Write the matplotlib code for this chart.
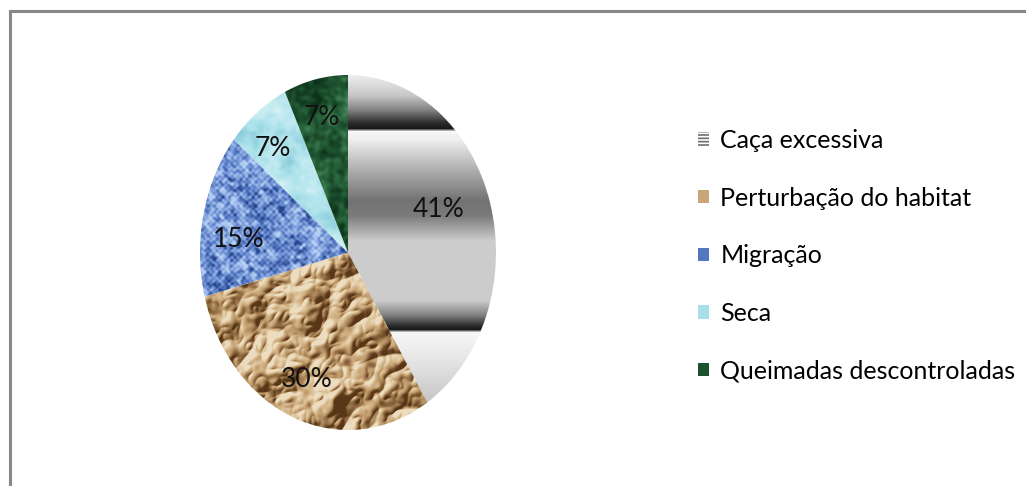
import numpy as np
import matplotlib
matplotlib.use("Agg")
from matplotlib import pyplot as plt
from matplotlib.patches import Patch
from matplotlib.lines import Line2D

# causes of decline, share in percent
causes = ["Caça excessiva", "Perturbação do habitat", "Migração", "Seca",
          "Queimadas descontroladas"]
shares = [41, 30, 15, 7, 7]

W_PX, H_PX = 1026, 486
DPI = 100
# pie box in pixels (left, top, right, bottom) - the pie is drawn stretched
PIE_BOX = (200, 75, 496, 430)
LABEL_FONT = ["Lato", "DejaVu Sans"]
plt.rcParams["hatch.linewidth"] = 1.2


def smooth_noise(shape, scale, seed):
    rng = np.random.default_rng(seed)
    n = rng.standard_normal(shape)
    fy = np.fft.fftfreq(shape[0])[:, None]
    fx = np.fft.fftfreq(shape[1])[None, :]
    g = np.exp(-(fx ** 2 + fy ** 2) * (2 * np.pi * scale) ** 2 / 2)
    out = np.real(np.fft.ifft2(np.fft.fft2(n) * g))
    return (out - out.mean()) / out.std()


def hex_rgb(h):
    h = h.lstrip("#")
    return np.array([int(h[i:i + 2], 16) / 255 for i in (0, 2, 4)])


def blend(t, colors):
    # t in [0,1] -> piecewise colour ramp
    t = np.clip(t, 0, 1)
    cs = np.array([hex_rgb(c) for c in colors])
    pos = np.linspace(0, 1, len(cs))
    out = np.empty(t.shape + (3,))
    for k in range(3):
        out[..., k] = np.interp(t, pos, cs[:, k])
    return out


def emboss(height):
    # simple directional lighting of a height field
    gy, gx = np.gradient(height)
    shade = -(gx * 0.7 + gy * 0.7)
    return shade / (np.abs(shade).std() + 1e-9)


def textures(h, w):
    yy, xx = np.mgrid[0:h, 0:w].astype(float)
    y_px = PIE_BOX[1] + yy

    # chrome bands
    keys_y = [75, 95, 110, 122, 128, 131, 140, 170, 200, 215, 240, 300,
              315, 325, 329, 332, 360, 400, 430]
    keys_v = [0.93, 0.78, 0.5, 0.18, 0.1, 0.97, 0.93, 0.68, 0.45, 0.48,
              0.8, 0.8, 0.5, 0.18, 0.1, 0.97, 0.9, 0.78, 0.72]
    g = np.interp(y_px, keys_y, keys_v)
    grey = np.dstack([g, g, g])

    # crumpled paper: ridged height field, lit from the upper left
    ridge = -np.abs(smooth_noise((h, w), 16, 11)) \
        - 0.6 * np.abs(smooth_noise((h, w), 7, 12)) \
        - 0.25 * np.abs(smooth_noise((h, w), 3, 13))
    light = emboss(ridge)
    t = 0.58 + 0.2 * light + 0.1 * smooth_noise((h, w), 14, 14)
    brown = blend(t, ["#573718", "#8d6840", "#bf9b6c", "#d8bb90", "#ecdcc0"])

    # woven cloth
    weave = np.sin(2 * np.pi * xx / 6.0) * np.sin(2 * np.pi * yy / 6.0)
    t = 0.55 + 0.16 * weave + 0.2 * smooth_noise((h, w), 1.5, 21) \
        + 0.08 * smooth_noise((h, w), 10, 22)
    blue = blend(t, ["#28468c", "#5477c0", "#86a6e0", "#b6cef2"])

    # water
    t = 0.55 + 0.16 * smooth_noise((h, w), 8, 31) \
        + 0.06 * smooth_noise((h, w), 2, 32)
    cyan = blend(t, ["#78c2d2", "#ade2eb", "#dcf4f6"])

    # foliage
    t = 0.4 + 0.14 * smooth_noise((h, w), 2, 41) \
        + 0.12 * smooth_noise((h, w), 7, 42)
    green = blend(t, ["#0d3219", "#1a4c2c", "#2d6a40", "#4f8a60"])

    return [grey, brown, blue, cyan, green]


fig = plt.figure(figsize=(W_PX / DPI, H_PX / DPI), dpi=DPI)
l, t, r, b = PIE_BOX
ax = fig.add_axes([l / W_PX, 1 - b / H_PX, (r - l) / W_PX, (b - t) / H_PX])

wedges, _, autotexts = ax.pie(
    shares, startangle=90, counterclock=False, radius=1,
    autopct="%1.0f%%", pctdistance=0.76,
    wedgeprops=dict(facecolor="none", edgecolor="none", linewidth=0),
    textprops=dict(fontsize=19, family=LABEL_FONT, color="#111111"))
ax.set_aspect("auto")
ax.set_xlim(-1, 1)
ax.set_ylim(-1, 1)
ax.axis("off")

tex = textures(b - t, r - l)
for wedge, img in zip(wedges, tex):
    im = ax.imshow(img, extent=[-1, 1, -1, 1], origin="upper",
                   interpolation="bilinear", aspect="auto", zorder=1)
    im.set_clip_path(wedge)

# nudge labels (pixel offsets, right / down)
nudges = [(-4, -10), (0, 2), (0, 16), (-6, 3), (-2, -3)]
sx, sy = 2 / (r - l), 2 / (b - t)
for txt, (dx, dy) in zip(autotexts, nudges):
    x0, y0 = txt.get_position()
    if txt is autotexts[0]:
        x0, y0 = x0 * 0.88, y0 * 0.88
    txt.set_position((x0 + dx * sx, y0 - dy * sy))
    txt.set_zorder(3)

handle_colors = ["#9a9a9a", "#c9a67a", "#5577c0", "#a8e0ea", "#1c5230"]
handles = []
for i, c in enumerate(handle_colors):
    if i == 0:
        handles.append(Patch(facecolor="white", edgecolor="#707070",
                             hatch="-----", linewidth=0))
    else:
        handles.append(Patch(facecolor=c, edgecolor="none"))

fig.legend(handles, causes, loc="upper left",
           bbox_to_anchor=(698 / W_PX, 1 - 129 / H_PX),
           frameon=False, prop=dict(family=LABEL_FONT, size=18),
           handlelength=0.45, handleheight=0.45, handletextpad=0.45,
           labelspacing=1.385, borderaxespad=0, borderpad=0)

# chart frame (only top and left edges fall inside the image)
fig.add_artist(Line2D([9.5 / W_PX, 1], [1 - 11 / H_PX, 1 - 11 / H_PX],
                      transform=fig.transFigure, color="#888888", lw=2.2,
                      solid_capstyle="projecting"))
fig.add_artist(Line2D([9.5 / W_PX, 9.5 / W_PX], [0, 1 - 11 / H_PX],
                      transform=fig.transFigure, color="#888888", lw=2.2,
                      solid_capstyle="projecting"))

fig.savefig("out.png", dpi=DPI, facecolor="white")
